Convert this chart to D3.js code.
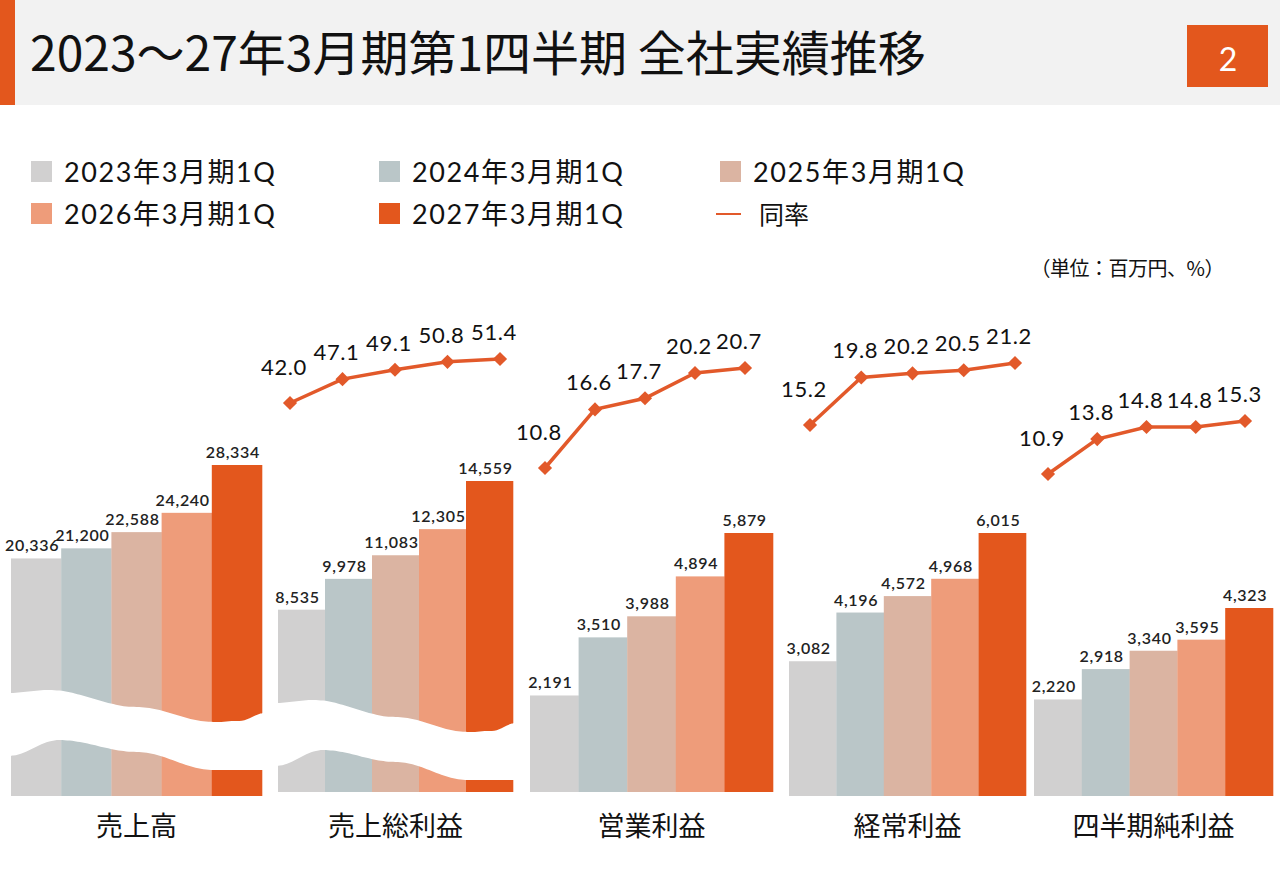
<!DOCTYPE html>
<html lang="ja">
<head>
<meta charset="utf-8">
<script src="https://cdn.jsdelivr.net/npm/d3@7"></script>
<style>
  html, body { margin: 0; padding: 0; background: #fff; }
  svg { display: block; }
  text { font-family: Lato, "Noto Sans CJK JP", sans-serif; fill: #111; }
</style>
</head>
<body>
<svg id="chart"></svg>
<script>
// ---- data ----
const titleText = "2023～27年3月期第1四半期 全社実績推移";
const pageNo = "2";
const unitLabel = "（単位：百万円、%）";
const categories = ["売上高", "売上総利益", "営業利益", "経常利益", "四半期純利益"];
const seriesNames = ["2023年3月期1Q", "2024年3月期1Q", "2025年3月期1Q", "2026年3月期1Q", "2027年3月期1Q"];
const rateName = "同率";

const q2023 = [20336, 8535, 2191, 3082, 2220];
const q2024 = [21200, 9978, 3510, 4196, 2918];
const q2025 = [22588, 11083, 3988, 4572, 3340];
const q2026 = [24240, 12305, 4894, 4968, 3595];
const q2027 = [28334, 14559, 5879, 6015, 4323];

const rateGross = [42.0, 47.1, 49.1, 50.8, 51.4];
const rateOperating = [10.8, 16.6, 17.7, 20.2, 20.7];
const rateOrdinary = [15.2, 19.8, 20.2, 20.5, 21.2];
const rateNet = [10.9, 13.8, 14.8, 14.8, 15.3];

const series = [q2023, q2024, q2025, q2026, q2027];
const rates = [null, rateGross, rateOperating, rateOrdinary, rateNet];

// ---- layout ----
const colors = ["#d1d0d0", "#bac6c8", "#dbb4a2", "#ee9c7a", "#e3571d"];
const lineColor = "#e2592a";
const width = 1280, height = 886;

// each panel has its own scale; wave = y of the broken-axis band (null = no break)
const panels = [
    {x0: 11, x1: 262, base: 796, top: 465, wave: 690},
    {x0: 278, x1: 513, base: 792, top: 481, wave: 700, rx: [290, 500], ry: [403, 359]},
    {x0: 530, x1: 773, base: 792, top: 533, wave: null, rx: [545, 745], ry: [468, 368]},
    {x0: 789, x1: 1026, base: 796, top: 533, wave: null, rx: [810, 1015], ry: [425, 363]},
    {x0: 1034, x1: 1273, base: 796, top: 608, wave: null, rx: [1048, 1245], ry: [474, 421]}
];

// wave band shape, t across panel width, offsets below band top
const waveUpper = [[0, 3], [0.16, 0], [0.5, 17], [0.8, 32], [0.9, 31], [1, 23]];
const waveLower = [[0, 66], [0.2, 50], [0.5, 62], [0.8, 80], [1, 80]];

const svg = d3.select("#chart")
    .attr("width", width)
    .attr("height", height);

// header
svg.append("rect").attr("x", 0).attr("y", 0).attr("width", width).attr("height", 105).attr("fill", "#f2f2f2");
svg.append("rect").attr("x", 0).attr("y", 0).attr("width", 15).attr("height", 105).attr("fill", "#e3571d");
svg.append("text")
    .attr("x", 30).attr("y", 71)
    .style("font-family", "'Noto Sans CJK JP', sans-serif")
    .style("font-size", "48px")
    .style("font-weight", 400)
    .text(titleText);
svg.append("rect").attr("x", 1187).attr("y", 25).attr("width", 81).attr("height", 62).attr("fill", "#e3571d");
svg.append("text")
    .attr("x", 1228).attr("y", 71)
    .attr("text-anchor", "middle")
    .style("fill", "#fff")
    .style("font-size", "32px")
    .text(pageNo);

// legend
const legendCols = [31, 379, 720];
const legendRows = [161, 203];
const legend = svg.append("g");
seriesNames.forEach((name, i) => {
    const lx = legendCols[i % 3], ly = legendRows[Math.floor(i / 3)];
    legend.append("rect")
        .attr("x", lx).attr("y", ly)
        .attr("width", 21).attr("height", 21)
        .attr("fill", colors[i]);
    legend.append("text")
        .attr("x", lx + 33).attr("y", ly + 21)
        .style("font-size", "27px")
        .style("letter-spacing", "1.6px")
        .text(name);
});
legend.append("line")
    .attr("x1", 716).attr("x2", 741)
    .attr("y1", 214).attr("y2", 214)
    .attr("stroke", lineColor).attr("stroke-width", 2);
legend.append("text")
    .attr("x", 759).attr("y", 224)
    .style("font-size", "25px")
    .text(rateName);

svg.append("text")
    .attr("x", 1224).attr("y", 276)
    .attr("text-anchor", "end")
    .style("font-family", "'Noto Sans CJK JP', sans-serif")
    .style("font-size", "20px")
    .style("letter-spacing", "-0.5px")
    .text(unitLabel);

// panels
const waveArea = d3.area()
    .x(d => d.x)
    .y0(d => d.y0)
    .y1(d => d.y1)
    .curve(d3.curveCatmullRom.alpha(0.5));

panels.forEach((p, i) => {
    const values = series.map(s => s[i]);
    const g = svg.append("g");

    const x = d3.scaleBand()
        .domain(seriesNames)
        .range([p.x0, p.x1])
        .padding(0);
    const y = d3.scaleLinear()
        .domain([0, d3.max(values)])
        .range([p.base, p.top]);

    g.selectAll("rect.bar")
        .data(values)
        .join("rect")
        .attr("class", "bar")
        .attr("x", (d, j) => x(seriesNames[j]))
        .attr("y", d => y(d))
        .attr("width", x.bandwidth() + 0.3)
        .attr("height", d => p.base - y(d))
        .attr("fill", (d, j) => colors[j]);

    // broken axis band
    if (p.wave !== null) {
        const w = p.x1 - p.x0;
        const ts = d3.range(0, 1.0001, 0.02);
        const pts = ts.map(t => ({
            x: p.x0 - 3 + t * (w + 6),
            y1: p.wave + smooth(waveUpper, t),
            y0: p.wave + smooth(waveLower, t)
        }));
        g.append("path")
            .attr("d", waveArea(pts))
            .attr("fill", "#fff");
    }

    g.selectAll("text.val")
        .data(values)
        .join("text")
        .attr("class", "val")
        .attr("x", (d, j) => x(seriesNames[j]) + x.bandwidth() / 2 - 4)
        .attr("y", d => y(d) - 7)
        .attr("text-anchor", "middle")
        .style("font-size", "16px")
        .style("font-weight", 600)
        .style("letter-spacing", "0.7px")
        .style("fill", "#222")
        .text(d => d3.format(",")(d));

    svg.append("text")
        .attr("x", (p.x0 + p.x1) / 2)
        .attr("y", 836)
        .attr("text-anchor", "middle")
        .style("font-family", "'Noto Sans CJK JP', sans-serif")
        .style("font-size", "27px")
        .text(categories[i]);

    const rate = rates[i];
    if (rate) {
        const xr = d3.scalePoint().domain(seriesNames).range(p.rx);
        const yr = d3.scaleLinear().domain(d3.extent(rate)).range(p.ry);
        const line = d3.line()
            .x((d, j) => xr(seriesNames[j]))
            .y(d => yr(d));
        g.append("path")
            .datum(rate)
            .attr("d", line)
            .attr("fill", "none")
            .attr("stroke", lineColor)
            .attr("stroke-width", 3.5);
        g.selectAll("path.mark")
            .data(rate)
            .join("path")
            .attr("class", "mark")
            .attr("d", d3.symbol(d3.symbolSquare, 100))
            .attr("transform", (d, j) => `translate(${xr(seriesNames[j])},${yr(d)}) rotate(45)`)
            .attr("fill", lineColor);
        g.selectAll("text.rate")
            .data(rate)
            .join("text")
            .attr("class", "rate")
            .attr("x", (d, j) => xr(seriesNames[j]) - 6)
            .attr("y", (d, j) => yr(d) - (j === 0 ? 28 : 19))
            .attr("text-anchor", "middle")
            .style("font-size", "22px")
            .style("letter-spacing", "0.6px")
            .text(d => d.toFixed(1));
    }
});

// piecewise smooth interpolation (cosine) between key points
function smooth(keys, t) {
    for (let k = 0; k < keys.length - 1; k++) {
        const [t0, v0] = keys[k], [t1, v1] = keys[k + 1];
        if (t >= t0 && t <= t1) {
            const u = (t - t0) / (t1 - t0);
            const s = (1 - Math.cos(Math.PI * u)) / 2;
            return v0 + (v1 - v0) * s;
        }
    }
    return keys[keys.length - 1][1];
}
</script>
</body>
</html>
